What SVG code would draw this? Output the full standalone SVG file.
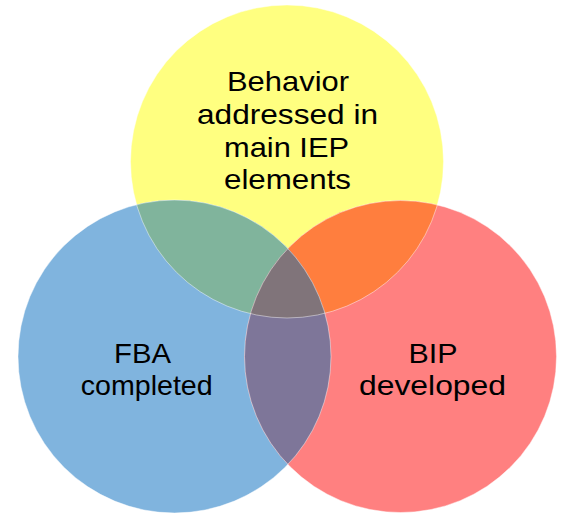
<svg xmlns="http://www.w3.org/2000/svg" width="562" height="515" viewBox="0 0 562 515">
  <defs>
    <style>
      .lbl { font-family: "Liberation Sans", Arial, sans-serif; font-size: 28px; fill: #000; text-anchor: middle; }
      .edge { fill: none; stroke: #ffffff; stroke-width: 1; stroke-opacity: 0.45; }
    </style>
    <clipPath id="cY"><circle cx="287" cy="161.5" r="156.5"/></clipPath>
    <clipPath id="cB"><circle cx="174.5" cy="356.5" r="156.5"/></clipPath>
    <clipPath id="cR"><circle cx="400.5" cy="356.5" r="156"/></clipPath>
  </defs>
  <rect width="562" height="515" fill="#ffffff"/>

  <g id="node-behavior">
    <circle cx="287" cy="161.5" r="156.5" fill="#FFFF80"/>
  </g>
  <g id="node-fba">
    <circle cx="174.5" cy="356.5" r="156.5" fill="#80B4DE"/>
  </g>
  <g id="node-bip">
    <circle cx="400.5" cy="356.5" r="156" fill="#FF8080"/>
  </g>

  <g id="overlaps">
    <g clip-path="url(#cY)">
      <circle cx="174.5" cy="356.5" r="156.5" fill="#80B49C"/>
      <circle cx="400.5" cy="356.5" r="156" fill="#FF7E3E"/>
    </g>
    <g clip-path="url(#cB)">
      <circle cx="400.5" cy="356.5" r="156" fill="#7E7699"/>
      <g clip-path="url(#cY)">
        <circle cx="400.5" cy="356.5" r="156" fill="#80747A"/>
      </g>
    </g>
  </g>

  <g id="outlines">
    <circle class="edge" cx="287" cy="161.5" r="156.5"/>
    <circle class="edge" cx="400.5" cy="356.5" r="156"/>
    <circle class="edge" cx="174.5" cy="356.5" r="156.5"/>
  </g>

  <g id="labels">
    <text class="lbl" x="288" y="91" textLength="122" lengthAdjust="spacingAndGlyphs">Behavior</text>
    <text class="lbl" x="287.5" y="124" textLength="181" lengthAdjust="spacingAndGlyphs">addressed in</text>
    <text class="lbl" x="286.5" y="157" textLength="125" lengthAdjust="spacingAndGlyphs">main IEP</text>
    <text class="lbl" x="287.5" y="189" textLength="127" lengthAdjust="spacingAndGlyphs">elements</text>
    <text class="lbl" x="142.5" y="363" textLength="57" lengthAdjust="spacingAndGlyphs">FBA</text>
    <text class="lbl" x="146.7" y="395" textLength="132" lengthAdjust="spacingAndGlyphs">completed</text>
    <text class="lbl" x="433" y="363" textLength="49" lengthAdjust="spacingAndGlyphs">BIP</text>
    <text class="lbl" x="432.5" y="395" textLength="147" lengthAdjust="spacingAndGlyphs">developed</text>
  </g>
</svg>
